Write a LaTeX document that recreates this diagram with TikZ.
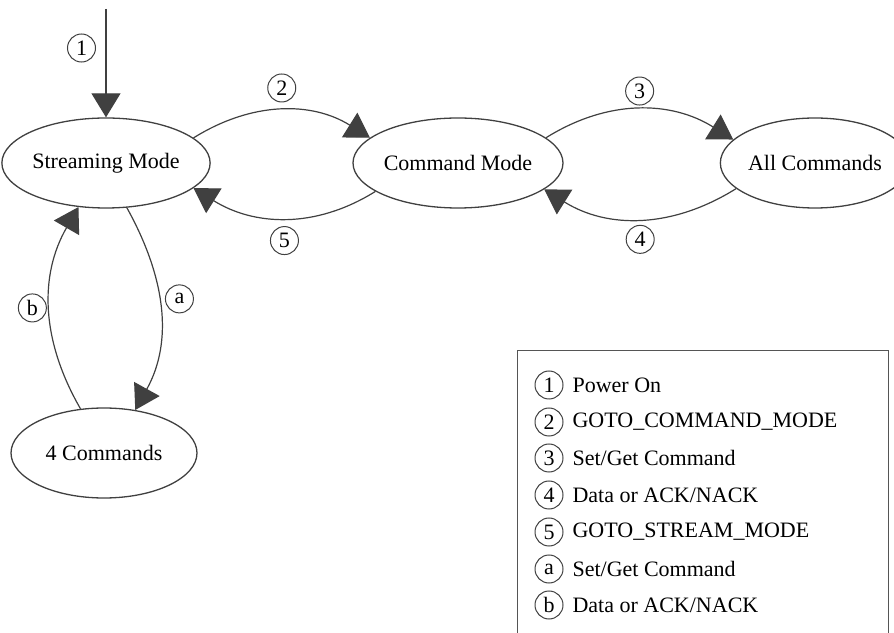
\documentclass[tikz,border=0pt]{standalone}
\usepackage{fontspec}
\setmainfont{Liberation Serif}
\usetikzlibrary{arrows.meta,shapes.geometric,positioning}
\definecolor{linegray}{HTML}{404040}
\definecolor{boxgray}{HTML}{555555}
\tikzset{%
    state/.style={ellipse, draw=linegray, line width=0.65pt,
        minimum width=93pt, minimum height=45pt, inner sep=0pt},
    lab/.style={circle, draw=linegray, line width=0.5pt,
        minimum size=14pt, inner sep=0pt},
    trans/.style={draw=linegray, line width=0.6pt,
        -{Triangle[length=12pt,width=14.5pt]}}
}

\begin{document}
\begin{tikzpicture}[x=0.5pt, y=0.5pt, font=\fontsize{11}{13}\selectfont]
\useasboundingbox (0,0) rectangle (894,632);
%\draw [help lines, step=50] (0,0) grid (894,632);
\node[state] (SM) at (106,469) {Streaming Mode};
\node[state] (CM) at (458,469) {Command Mode};
\node[state] (AC) at (815,469) {All Commands};
\node[state] (FC) at (104,179) {4 Commands};
\coordinate (pw) at (106,623);

\path[every edge/.style={trans}]

% power on
(pw) edge node[lab, left=5pt, pos=.36] {1} (SM)

% SM to CM
(SM.16) edge[out=32, in=148] node[lab, above=4pt] {2} (CM.164)

% CM to AC
(CM.16) edge[out=32, in=148] node[lab, above=2pt] {3} (AC.164)

% AC to CM
(AC.198) edge[out=212, in=-32] node[lab, below=3pt] {4} (CM.-17)

% CM to SM
(CM.199) edge[out=212, in=-32] node[lab, below=4pt] {5} (SM.-16)

% SM to FC
(SM.-65) edge[out=-61, in=61] node[lab, right=3pt, pos=.45] {a} (FC.54)

% FC to SM
(FC.118) edge[out=120, in=240] node[lab, left=1.5pt] {b} (SM.238)
;

% legend
\draw[boxgray, line width=0.5pt] (517,-10) rectangle (888,281);
\node[lab] (K1) at (549,247) {1};
\node[right=1pt of K1] (T1) {Power On};
\node[lab] (K2) at (549,210) {2};
\node[right=1pt of K2] (T2) {GOTO\_COMMAND\_MODE};
\node[lab] (K3) at (549,174) {3};
\node[right=1pt of K3] (T3) {Set/Get Command};
\node[lab] (K4) at (549,137) {4};
\node[right=1pt of K4] (T4) {Data or ACK/NACK};
\node[lab] (K5) at (549,100) {5};
\node[right=1pt of K5] (T5) {GOTO\_STREAM\_MODE};
\node[lab] (Ka) at (549,63) {a};
\node[right=1pt of Ka] (Ta) {Set/Get Command};
\node[lab] (Kb) at (549,27) {b};
\node[right=1pt of Kb] (Tb) {Data or ACK/NACK};
\end{tikzpicture}
\end{document}
